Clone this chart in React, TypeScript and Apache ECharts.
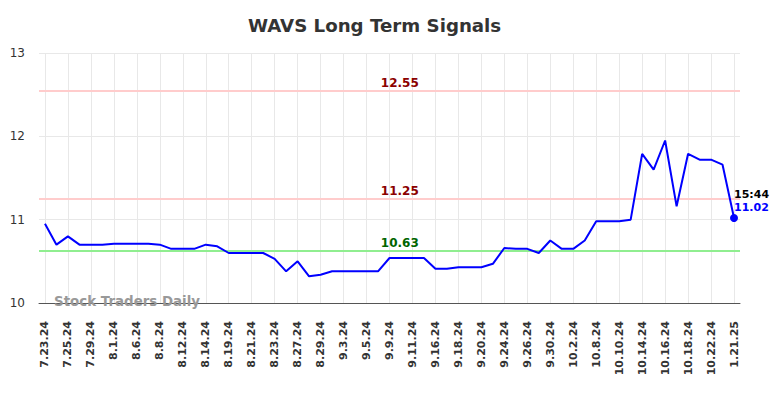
import React, { useEffect, useRef } from "react";
import * as echarts from "echarts";

const categories: string[] = [
  "7.23.24", "7.24.24", "7.25.24", "7.26.24", "7.29.24", "7.31.24", "8.1.24", "8.2.24",
  "8.6.24", "8.7.24", "8.8.24", "8.9.24", "8.12.24", "8.13.24", "8.14.24", "8.16.24",
  "8.19.24", "8.20.24", "8.21.24", "8.22.24", "8.23.24", "8.26.24", "8.27.24", "8.28.24",
  "8.29.24", "8.30.24", "9.3.24", "9.4.24", "9.5.24", "9.6.24", "9.9.24", "9.10.24",
  "9.11.24", "9.13.24", "9.16.24", "9.17.24", "9.18.24", "9.19.24", "9.20.24", "9.23.24",
  "9.24.24", "9.25.24", "9.26.24", "9.27.24", "9.30.24", "10.1.24", "10.2.24", "10.4.24",
  "10.8.24", "10.9.24", "10.10.24", "10.11.24", "10.14.24", "10.15.24", "10.16.24", "10.17.24",
  "10.18.24", "10.21.24", "10.22.24", "10.23.24", "1.21.25",
];

const prices: number[] = [
  10.95, 10.70, 10.80, 10.70, 10.70, 10.70, 10.71, 10.71,
  10.71, 10.71, 10.70, 10.65, 10.65, 10.65, 10.70, 10.68,
  10.60, 10.60, 10.60, 10.60, 10.53, 10.38, 10.50, 10.32,
  10.34, 10.38, 10.38, 10.38, 10.38, 10.38, 10.54, 10.54,
  10.54, 10.54, 10.41, 10.41, 10.43, 10.43, 10.43, 10.47,
  10.66, 10.65, 10.65, 10.60, 10.75, 10.65, 10.65, 10.75,
  10.98, 10.98, 10.98, 11.00, 11.79, 11.60, 11.95, 11.16,
  11.79, 11.72, 11.72, 11.66, 11.02,
];

const labelTicks: number[] = [
  0, 2, 4, 6, 8, 10, 12, 14, 16, 18, 20, 22, 24, 26, 28, 30,
  32, 34, 36, 38, 40, 42, 44, 46, 48, 50, 52, 54, 56, 58, 60,
];

const yTicks: number[] = [10, 11, 12, 13];

const resistanceHigh = 12.55;
const resistanceLow = 11.25;
const supportLevel = 10.63;
const lastTime = "15:44";
const levelLabelIndex = 30.9;

const FONT = "DejaVu Sans";

export default function App() {
  const ref = useRef<HTMLDivElement>(null);

  useEffect(() => {
    document.body.style.margin = "0";
    if (!ref.current) return;
    const chart = echarts.init(ref.current, undefined, { renderer: "svg" });
    const lastIdx = prices.length - 1;
    const lastVal = prices[lastIdx];

    const levelPoint = (v: number, color: string) => ({
      coord: [levelLabelIndex, v],
      symbol: "circle",
      symbolSize: 0,
      label: {
        show: true,
        position: "inside",
        offset: [0, -8],
        formatter: v.toFixed(2),
        color,
        fontSize: 12,
        fontWeight: "bold",
        fontFamily: FONT,
      },
    });

    chart.setOption({
      animation: false,
      title: {
        text: "WAVS Long Term Signals",
        left: 243,
        top: 11,
        textStyle: { fontSize: 18.2, fontWeight: "bold", color: "#333333", fontFamily: FONT },
      },
      grid: { left: 39, right: 44, top: 53, bottom: 95 },
      xAxis: {
        type: "value",
        min: -0.52,
        max: lastIdx + 0.52,
        axisLine: { show: true, lineStyle: { color: "#555555", width: 1 } },
        axisTick: { show: false, customValues: labelTicks },
        axisLabel: {
          customValues: labelTicks,
          rotate: 90,
          margin: 18,
          fontSize: 11,
          fontWeight: "bold",
          color: "#333333",
          fontFamily: FONT,
          formatter: (v: number) => categories[Math.round(v)] ?? "",
        },
        splitLine: { show: true, lineStyle: { color: "#e8e8e8", width: 1 } },
      },
      yAxis: {
        type: "value",
        min: yTicks[0],
        max: yTicks[yTicks.length - 1],
        interval: 1,
        axisLine: { show: false },
        axisTick: { show: false },
        axisLabel: { fontSize: 12, color: "#333333", margin: 14, fontFamily: FONT },
        splitLine: { show: true, lineStyle: { color: "#e8e8e8", width: 1 } },
      },
      graphic: [
        {
          type: "text",
          left: 54,
          top: 295,
          z: 100,
          style: {
            text: "Stock Traders Daily",
            fill: "#999999",
            font: `bold 13.4px '${FONT}'`,
          },
        },
      ],
      series: [
        {
          type: "line",
          data: prices.map((v, i) => [i, v]),
          showSymbol: false,
          lineStyle: { color: "#0000ff", width: 2 },
          itemStyle: { color: "#0000ff" },
          z: 3,
          markLine: {
            silent: true,
            symbol: "none",
            label: { show: false },
            z: 1,
            data: [
              { yAxis: resistanceHigh, lineStyle: { color: "#ffcccc", width: 2, type: "solid" } },
              { yAxis: resistanceLow, lineStyle: { color: "#ffcccc", width: 2, type: "solid" } },
              { yAxis: supportLevel, lineStyle: { color: "#90ee90", width: 2, type: "solid" } },
            ],
          },
          markPoint: {
            silent: true,
            data: [
              levelPoint(resistanceHigh, "#8b0000"),
              levelPoint(resistanceLow, "#8b0000"),
              levelPoint(supportLevel, "#006400"),
              {
                coord: [lastIdx, lastVal],
                symbol: "circle",
                symbolSize: 8,
                itemStyle: { color: "#0000ff" },
                label: {
                  show: true,
                  position: "inside",
                  align: "left",
                  verticalAlign: "middle",
                  offset: [0, -17],
                  formatter: `{t|${lastTime}}\n{v|${lastVal.toFixed(2)}}`,
                  rich: {
                    t: { color: "#000000", fontSize: 11, fontWeight: "bold", fontFamily: FONT, lineHeight: 13 },
                    v: { color: "#0000ff", fontSize: 11, fontWeight: "bold", fontFamily: FONT, lineHeight: 13 },
                  },
                },
              },
            ],
          },
        },
      ],
    });

    return () => chart.dispose();
  }, []);

  return <div ref={ref} style={{ width: 784, height: 398 }} />;
}
